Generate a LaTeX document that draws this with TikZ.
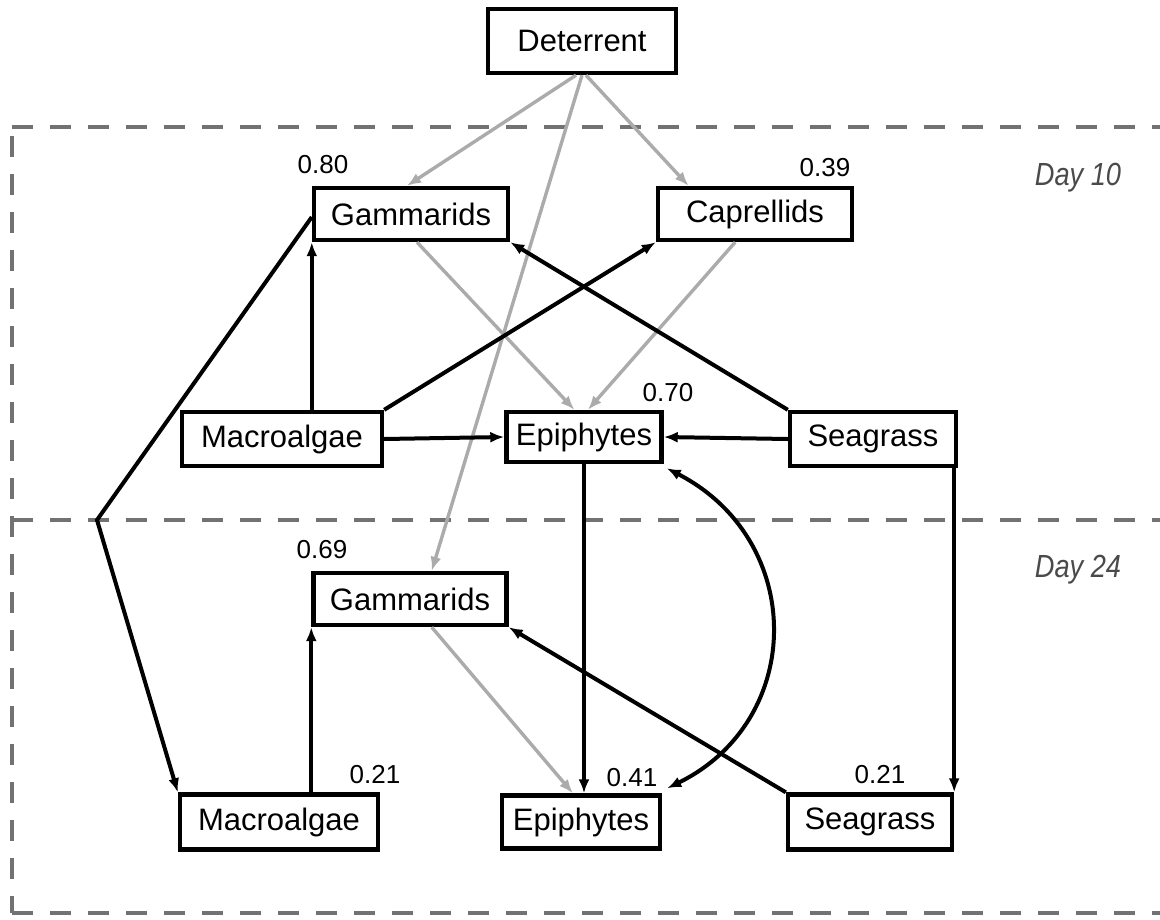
\documentclass[tikz,border=0pt]{standalone}
\usepackage{fontspec}
\setmainfont{Liberation Sans}
\setsansfont{Liberation Sans}
\usetikzlibrary{arrows.meta,calc}
\definecolor{lgray}{HTML}{ABABAB}
\definecolor{dgray}{HTML}{707372}
\definecolor{tgray}{HTML}{4A4A4A}
\tikzset{
  box/.style={draw=black,line width=4.4pt,fill=white,inner sep=0pt,font=\fontsize{31}{34}\selectfont},
  num/.style={inner sep=0pt,font=\fontsize{26}{30}\selectfont},
  day/.style={inner sep=0pt,text=tgray,font=\fontsize{32}{34}\selectfont\itshape,xscale=0.85},
  blk/.style={draw=black,line width=4pt,-{Latex[length=14pt,width=11pt]}},
  gry/.style={draw=lgray,line width=3.4pt,-{Latex[length=14pt,width=11pt]}},
  sep/.style={draw=dgray,line width=4pt,dash pattern=on 21pt off 17pt}
}
\begin{document}
\begin{tikzpicture}[x=1pt,y=-1pt]
\useasboundingbox (0,0) rectangle (1160,919);
% dashed frames
\draw[sep] (12,127) -- (1160,127);
\draw[sep] (12,520) -- (1160,520);
\draw[sep] (12,913) -- (1160,913);
\draw[sep] (12,136) -- (12,913);
\node[day] (d10) at (1078,178) {Day 10};
\node[day] (d24) at (1078,570) {Day 24};
% nodes
\node[box,minimum width=188pt,minimum height=64pt] (det) at (582,41) {Deterrent};
\node[box,minimum width=194pt,minimum height=52pt] (g10) at (411,214) {Gammarids};
\node[box,minimum width=194pt,minimum height=52pt] (c10) at (755,214) {Caprellids};
\node[box,minimum width=200pt,minimum height=54pt] (m10) at (282,439) {Macroalgae};
\node[box,minimum width=155pt,minimum height=50pt] (e10) at (584,437) {Epiphytes};
\node[box,minimum width=166pt,minimum height=54pt] (s10) at (873,439) {Seagrass};
\node[box,minimum width=193pt,minimum height=52pt] (g24) at (410,599) {Gammarids};
\node[box,minimum width=198pt,minimum height=55pt] (m24) at (279,822) {Macroalgae};
\node[box,minimum width=158pt,minimum height=53pt] (e24) at (581,822) {Epiphytes};
\node[box,minimum width=164pt,minimum height=55pt] (s24) at (870,822) {Seagrass};
% numbers
\node[num] (n1) at (323,165) {0.80};
\node[num] (n2) at (825,168) {0.39};
\node[num] (n3) at (668,393) {0.70};
\node[num] (n4) at (322,550) {0.69};
\node[num] (n5) at (375,775) {0.21};
\node[num] (n6) at (632,778) {0.41};
\node[num] (n7) at (880,775) {0.21};
% gray paths
\draw[gry] ($(det.south)+(-6,0)$) -- ($(g10.north)+(-4,0)$);
\draw[gry] ($(det.south)+(4,0)$) -- ($(c10.north)!0.67!(c10.north west)$);
\draw[gry] (det.south) -- ($(g24.north)!0.22!(g24.north east)$);
\draw[gry] ($(g10.south)+(6,0)$) -- ($(e10.north)!0.12!(e10.north west)$);
\draw[gry] ($(c10.south)!0.2!(c10.south west)$) -- ($(e10.north)!0.05!(e10.north east)$);
\draw[gry] ($(g24.south)!0.22!(g24.south east)$) -- ($(e24.north)!0.1!(e24.north west)$);
% black paths
\draw[blk] (g10.south west |- m10.north) -- (g10.south west);
\draw[blk] (m10.north east) -- (c10.south west);
\draw[blk] (m10.east) -- (e10.west);
\draw[blk] (s10.west) -- (e10.east);
\draw[blk] (s10.north west) -- (g10.south east);
\coordinate (kink) at (97,520);
\draw[blk] (g10.west) ++(0,3) -- (kink) -- (m24.north west);
\draw[blk] (e10.south) -- (e10.south |- e24.north);
\draw[blk] (s24.north east |- s10.south) -- (s24.north east);
\draw[blk] (s24.north west) -- (g24.south east);
\draw[blk] (g24.south west |- m24.north) -- (g24.south west);
\draw[black,line width=4pt,{Latex[length=14pt,width=11pt]}-{Latex[length=14pt,width=11pt]}]
  ($(e10.south east)+(3,4)$) .. controls (806,540) and (806,720) .. ($(e24.north east)+(5,-5)$);
\end{tikzpicture}
\end{document}
